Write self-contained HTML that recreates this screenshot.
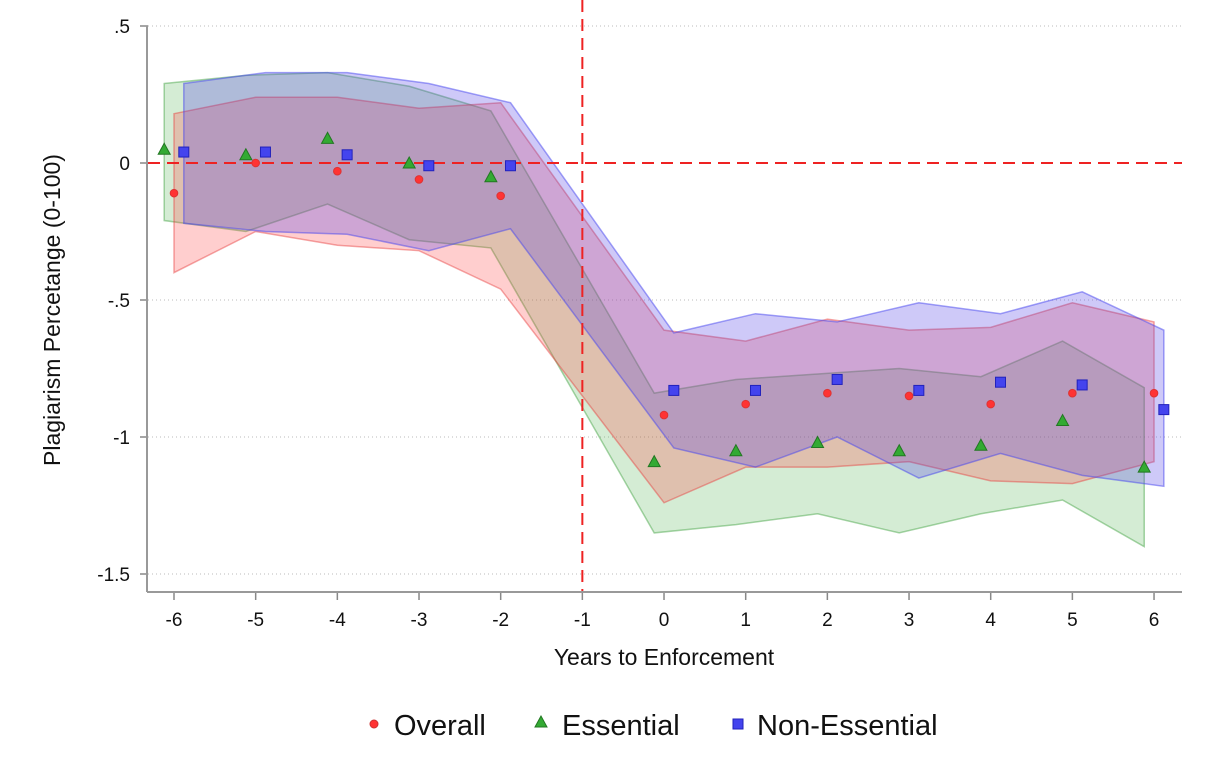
<!DOCTYPE html>
<html><head><meta charset="utf-8"><style>
html,body{margin:0;padding:0;background:#fff;}
svg{display:block;font-family:"Liberation Sans",Arial,sans-serif;}
</style></head><body>
<svg id="chart" width="1212" height="767">
<g id="grid"></g><g id="bands"></g><g id="refs"></g><g id="pts"></g><g id="axes"></g>
<text x="664" y="665" text-anchor="middle" font-size="23" fill="#111">Years to Enforcement</text>
<text transform="translate(60,310) rotate(-90)" text-anchor="middle" font-size="23" fill="#111">Plagiarism Percetange (0-100)</text>
<g>
<g><circle cx="374" cy="724" r="4" fill="#f33" stroke="#c33"/><text x="394" y="735" font-size="29" fill="#111">Overall</text></g>
<g><polygon points="541,716 535,727 547,727" fill="#3a3" stroke="#272"/><text x="562" y="735" font-size="29" fill="#111">Essential</text></g>
<g><rect x="733" y="719" width="10" height="10" fill="#44e" stroke="#22b"/><text x="757" y="735" font-size="29" fill="#111">Non-Essential</text></g>
</g>
</svg>
<script>
const years=[-6,-5,-4,-3,-2,0,1,2,3,4,5,6];
const overall=[-0.11,0.0,-0.03,-0.06,-0.12,-0.92,-0.88,-0.84,-0.85,-0.88,-0.84,-0.84];
const overallHi=[0.18,0.24,0.24,0.20,0.22,-0.61,-0.65,-0.57,-0.61,-0.60,-0.51,-0.58];
const overallLo=[-0.40,-0.25,-0.30,-0.32,-0.46,-1.24,-1.11,-1.11,-1.09,-1.16,-1.17,-1.09];
const essential=[0.05,0.03,0.09,0.0,-0.05,-1.09,-1.05,-1.02,-1.05,-1.03,-0.94,-1.11];
const essentialHi=[0.29,0.32,0.33,0.28,0.19,-0.84,-0.79,-0.77,-0.75,-0.78,-0.65,-0.82];
const essentialLo=[-0.21,-0.25,-0.15,-0.28,-0.31,-1.35,-1.32,-1.28,-1.35,-1.28,-1.23,-1.40];
const nonEss=[0.04,0.04,0.03,-0.01,-0.01,-0.83,-0.83,-0.79,-0.83,-0.80,-0.81,-0.90];
const nonEssHi=[0.29,0.33,0.33,0.29,0.22,-0.62,-0.55,-0.58,-0.51,-0.55,-0.47,-0.61];
const nonEssLo=[-0.22,-0.25,-0.26,-0.32,-0.24,-1.04,-1.11,-1.00,-1.15,-1.06,-1.14,-1.18];
const yTicks=[0.5,0,-0.5,-1,-1.5];
const yTickLabels=[".5","0","-.5","-1","-1.5"];
const xTicks=[-6,-5,-4,-3,-2,-1,0,1,2,3,4,5,6];

const NS="http://www.w3.org/2000/svg";
const X=v=>174+(v+6)*81.67;
const Y=v=>163-v*274;
function mk(parent,tag,attrs){const e=document.createElementNS(NS,tag);for(const k in attrs)e.setAttribute(k,attrs[k]);document.getElementById(parent).appendChild(e);return e;}

yTicks.forEach((t,i)=>{
  if(t!==0){const l=mk('grid','line',{x1:148,x2:1182,y1:Y(t),y2:Y(t),stroke:'#bbb','stroke-width':1,'stroke-dasharray':'1,3'});
  
  }
  const tk=mk('axes','line',{x1:140,x2:148,y1:Y(t),y2:Y(t),stroke:'#888','stroke-width':1.5});
  
  
  const tx=mk('axes','text',{x:130,y:Y(t)+7,'text-anchor':'end','font-size':19,fill:'#111'});
  tx.textContent=yTickLabels[i];
  
  
});
xTicks.forEach(t=>{
  const tk=mk('axes','line',{x1:X(t),x2:X(t),y1:592,y2:600,stroke:'#888','stroke-width':1.5});
  
  
  const tx=mk('axes','text',{x:X(t),y:626,'text-anchor':'middle','font-size':19,fill:'#111'});
  tx.textContent=t;
  
  
});
const ya=mk('axes','line',{x1:147,x2:147,y1:26,y2:592,stroke:'#999','stroke-width':2});


const xa=mk('axes','line',{x1:147,x2:1182,y1:592,y2:592,stroke:'#999','stroke-width':2});



function band(hi,lo,off,fill,stroke,name){
  let pts=years.map((y,i)=>X(y+off)+','+Y(hi[i]));
  pts=pts.concat(years.map((y,i)=>X(y+off)+','+Y(lo[i])).reverse());
  const p=mk('bands','polygon',{points:pts.join(' '),fill:fill,stroke:stroke,'stroke-width':1.5});
  
  
}
band(essentialHi,essentialLo,-0.12,'rgba(60,170,60,0.22)','rgba(60,160,60,0.45)','ci-band-essential');
band(overallHi,overallLo,0,'rgba(255,60,60,0.25)','rgba(230,60,60,0.45)','ci-band-overall');
band(nonEssHi,nonEssLo,0.12,'rgba(80,60,230,0.28)','rgba(70,70,240,0.5)','ci-band-non-essential');

const h=mk('refs','line',{x1:148,x2:1182,y1:Y(0),y2:Y(0),stroke:'#e22','stroke-width':2,'stroke-dasharray':'12,7'});


const v=mk('refs','line',{x1:X(-1),x2:X(-1),y1:0,y2:592,stroke:'#e22','stroke-width':2,'stroke-dasharray':'12,7'});



years.forEach((yr,i)=>{
  const c=mk('pts','circle',{cx:X(yr),cy:Y(overall[i]),r:3.8,fill:'#f33',stroke:'#d33'});
  
  
  const x=X(yr-0.12),y=Y(essential[i]);
  const t=mk('pts','polygon',{points:`${x},${y-6} ${x-6},${y+5} ${x+6},${y+5}`,fill:'#3a3',stroke:'#272'});
  
  
  const sx=X(yr+0.12),sy=Y(nonEss[i]);
  const s=mk('pts','rect',{x:sx-5,y:sy-5,width:10,height:10,fill:'#44e',stroke:'#22b'});
  
  
});
</script>
</body></html>
